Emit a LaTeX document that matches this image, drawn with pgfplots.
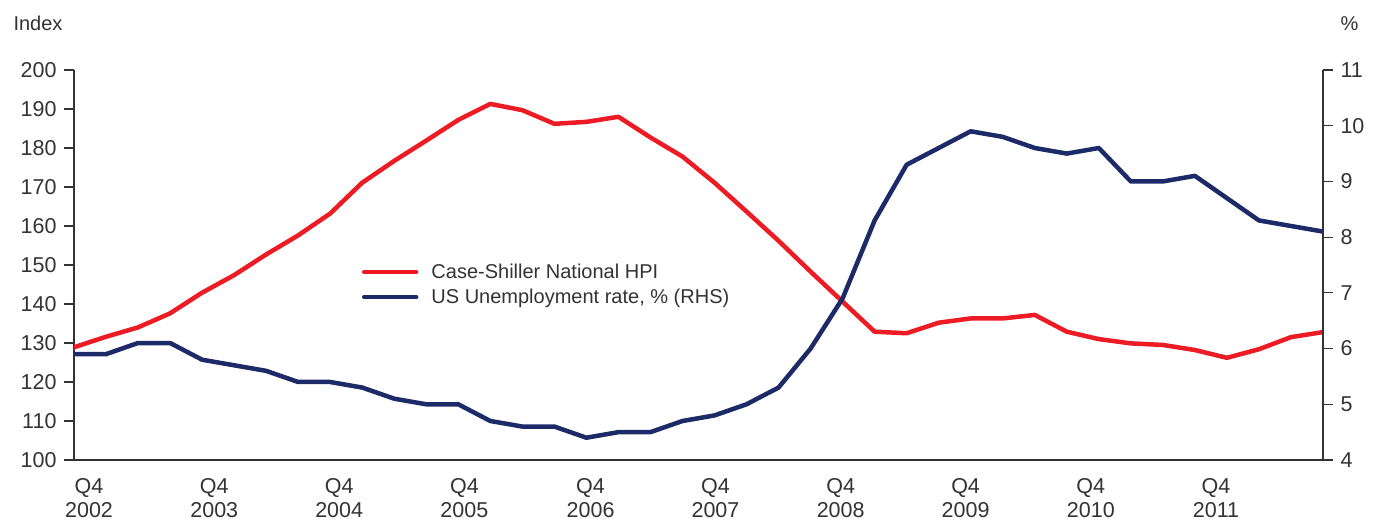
\documentclass[border=0pt]{standalone}
\usepackage{pgfplots}
\usepackage{pgfplotstable}
\pgfplotsset{compat=1.18}
\usepackage{fontspec}
\setmainfont{Liberation Sans}
\definecolor{hpired}{RGB}{237,28,36}
\definecolor{urnavy}{RGB}{28,42,104}
\definecolor{txtgray}{RGB}{51,51,51}
\pgfplotstableread{
i hpi ur
0 128.9 5.9
1 131.6 5.9
2 134.0 6.1
3 137.6 6.1
4 142.9 5.8
5 147.4 5.7
6 152.7 5.6
7 157.6 5.4
8 163.2 5.4
9 171.1 5.3
10 176.7 5.1
11 181.9 5.0
12 187.2 5.0
13 191.3 4.7
14 189.7 4.6
15 186.2 4.6
16 186.7 4.4
17 188.0 4.5
18 182.7 4.5
19 177.8 4.7
20 171.1 4.8
21 163.7 5.0
22 156.2 5.3
23 148.3 6.0
24 140.6 6.9
25 132.9 8.3
26 132.5 9.3
27 135.2 9.6
28 136.3 9.9
29 136.3 9.8
30 137.2 9.6
31 132.9 9.5
32 131.0 9.6
33 129.9 9.0
34 129.5 9.0
35 128.2 9.1
36 126.2 8.7
37 128.4 8.3
38 131.5 8.2
39 132.8 8.1
}\datatable
\begin{document}
\begin{tikzpicture}[font=\fontsize{20}{24}\selectfont, text=txtgray]
\useasboundingbox (0,0) rectangle (1381pt,519pt);
\pgfplotsset{
  myaxis/.style={
    at={(74pt,59pt)}, anchor=south west,
    scale only axis, width=1249pt, height=390pt,
    xmin=0, xmax=39,
    axis line style={-, draw=txtgray, line width=1.2pt},
    tick style={draw=txtgray, line width=1.2pt},
    tick align=outside, major tick length=10pt,
    /pgf/number format/assume math mode=true,
    tick label style={font=\fontsize{20}{24}\selectfont, text=txtgray},
  }
}
\begin{axis}[myaxis,
  axis x line*=bottom, axis y line*=left,
  ymin=100, ymax=200, ytick={100,110,...,200},
  yticklabel style={font=\fontsize{21.5}{24}\selectfont, xshift=-4pt},
  xtick={0.47,4.38,8.28,12.19,16.13,20.03,23.94,27.84,31.75,35.66},
  xticklabels={{Q4\\2002},{Q4\\2003},{Q4\\2004},{Q4\\2005},{Q4\\2006},{Q4\\2007},{Q4\\2008},{Q4\\2009},{Q4\\2010},{Q4\\2011}},
  xticklabel style={align=center, yshift=-5pt, font=\fontsize{21.5}{23.5}\selectfont},
  x tick style={draw=none},
]
\addplot[hpired, line width=4.5pt, line join=round, line cap=round] table[x=i, y=hpi] {\datatable};
\end{axis}
\begin{axis}[myaxis,
  axis x line=none, axis y line*=right,
  ymin=4, ymax=11, ytick={4,5,...,11},
  yticklabel style={font=\fontsize{21.5}{24}\selectfont, xshift=4pt},
  legend style={draw=none, fill=none, at={(0.228,0.45)}, anchor=west,
    font=\fontsize{20}{24}\selectfont, text=txtgray, row sep=5pt},
  legend cell align=left,
  legend image code/.code={\draw[#1, line cap=round] (0pt,0pt) -- (52pt,0pt); \path (63pt,0pt);},
]
\addlegendimage{hpired, line width=4.5pt}
\addlegendentry{Case-Shiller National HPI}
\addplot[urnavy, line width=4.5pt, line join=round, line cap=round] table[x=i, y=ur] {\datatable};
\addlegendentry{US Unemployment rate, \% (RHS)}
\end{axis}
\node[anchor=base west] at (10pt,488pt) {Index};
\node[anchor=base west] at (1337pt,488pt) {\%};
\end{tikzpicture}
\end{document}
